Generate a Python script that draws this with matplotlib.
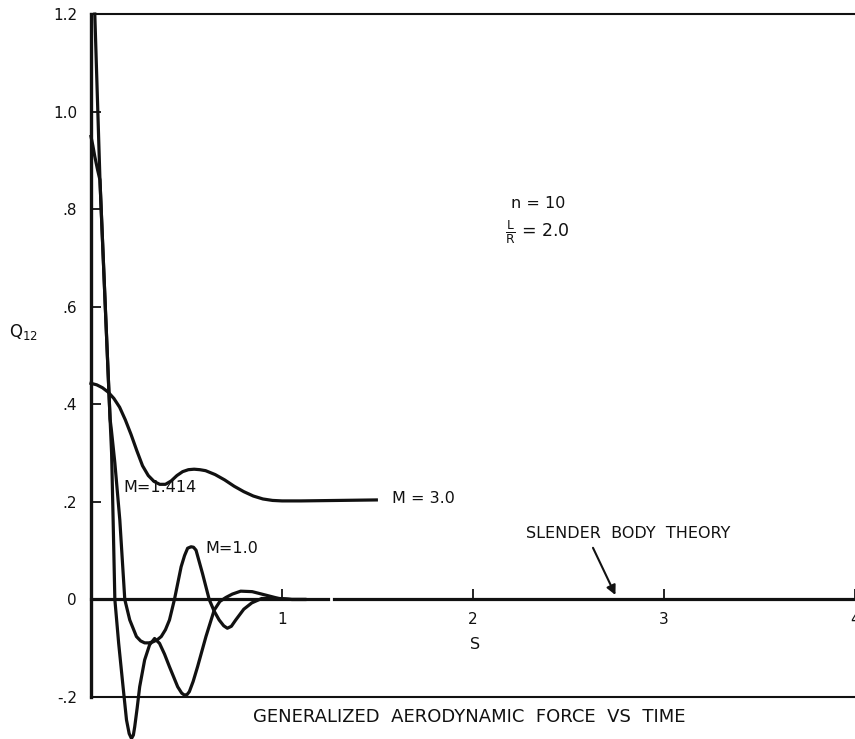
import numpy as np
import matplotlib
matplotlib.use("Agg")
import matplotlib.pyplot as plt

# values (S, Q12)
s_m30 = [0.0, 0.03, 0.06, 0.09, 0.12, 0.15, 0.18, 0.21, 0.24, 0.27, 0.30, 0.33,
         0.36, 0.39, 0.42, 0.45, 0.48, 0.51, 0.54, 0.57, 0.60, 0.65, 0.70, 0.75,
         0.80, 0.85, 0.90, 0.95, 1.0, 1.1, 1.3, 1.494]
q_m30 = [0.443, 0.440, 0.434, 0.425, 0.412, 0.394, 0.368, 0.338, 0.305, 0.274, 0.254, 0.242,
         0.236, 0.236, 0.243, 0.254, 0.262, 0.266, 0.267, 0.266, 0.264, 0.256, 0.245, 0.232,
         0.221, 0.212, 0.206, 0.203, 0.202, 0.202, 0.203, 0.204]

s_m1414 = [0.02, 0.047, 0.075, 0.100, 0.108, 0.116, 0.125, 0.145, 0.168, 0.186, 0.200, 0.212,
           0.222, 0.229, 0.242, 0.255, 0.281, 0.307, 0.333, 0.359, 0.385, 0.411, 0.454, 0.475,
           0.489, 0.503, 0.515, 0.535, 0.558, 0.602, 0.645, 0.675, 0.706, 0.74, 0.784, 0.844,
           0.914, 0.983, 1.052, 1.12]
q_m1414 = [1.20, 0.860, 0.600, 0.370, 0.300, 0.163, 0.000, -0.090, -0.179, -0.247, -0.275, -0.285,
           -0.278, -0.261, -0.222, -0.179, -0.124, -0.093, -0.080, -0.090, -0.112, -0.138, -0.179, -0.192,
           -0.196, -0.195, -0.189, -0.168, -0.138, -0.076, -0.022, -0.004, 0.004, 0.011, 0.017, 0.016,
           0.009, 0.002, 0.000, 0.000]

s_m10 = [0.0, 0.01, 0.02, 0.035, 0.047, 0.075, 0.100, 0.107, 0.125, 0.151, 0.177, 0.203,
         0.238, 0.260, 0.281, 0.303, 0.324, 0.346, 0.368, 0.390, 0.411, 0.437, 0.472, 0.490,
         0.506, 0.524, 0.537, 0.550, 0.584, 0.619, 0.645, 0.671, 0.695, 0.714, 0.735, 0.758,
         0.80, 0.842, 0.894, 0.983, 1.05, 1.12]
q_m10 = [0.949, 0.930, 0.908, 0.880, 0.860, 0.600, 0.370, 0.347, 0.280, 0.163, 0.000, -0.042,
         -0.076, -0.085, -0.089, -0.089, -0.087, -0.083, -0.076, -0.062, -0.042, 0.000, 0.067, 0.090,
         0.105, 0.108, 0.107, 0.101, 0.053, 0.000, -0.024, -0.042, -0.054, -0.059, -0.055, -0.042,
         -0.020, -0.007, 0.002, 0.002, 0.000, 0.000]

# slender body theory: Q12 = 0 (drawn in two pieces, as in the original)
s_sbt = [[0.0, 1.243], [1.274, 4.2]]
q_sbt = [[0.0, 0.0], [0.0, 0.0]]

y_ticks = [-0.2, 0.0, 0.2, 0.4, 0.6, 0.8, 1.0, 1.2]
y_tick_labels = ["-.2", "0", ".2", ".4", ".6", ".8", "1.0", "1.2"]
x_ticks = [1, 2, 3, 4]
x_tick_labels = ["1", "2", "3", "4"]

ink = "#111111"
plt.rcParams["font.family"] = ["DejaVu Sans"]

fig = plt.figure(figsize=(8.55, 7.39), dpi=100)
ax = fig.add_axes([0.1064, 0.0568, 0.8936, 0.9242])
ax.set_xlim(0, 4)
ax.set_ylim(-0.2, 1.2)

ax.spines["right"].set_visible(False)
ax.spines["left"].set_linewidth(2.4)
ax.spines["left"].set_color(ink)
ax.spines["top"].set_linewidth(1.5)
ax.spines["top"].set_color(ink)
# x axis sits on the zero line; its own line is replaced by the SBT line below
ax.spines["bottom"].set_position(("data", 0))
ax.spines["bottom"].set_visible(False)
ax.axhline(-0.2, color=ink, lw=1.5, clip_on=False)

ax.set_yticks(y_ticks)
ax.set_yticklabels(y_tick_labels)
ax.set_xticks(x_ticks)
ax.set_xticklabels(x_tick_labels)
ax.tick_params(axis="y", direction="in", length=7, width=1.3, pad=10,
               labelsize=11, colors=ink)
ax.tick_params(axis="x", direction="in", length=7, width=1.3, pad=9,
               labelsize=11, colors=ink)

for xs, ys in zip(s_sbt, q_sbt):
    ax.plot(xs, ys, color=ink, lw=2.3, clip_on=False)

ax.plot(s_m30, q_m30, color=ink, lw=2.3, clip_on=False)
ax.plot(s_m1414, q_m1414, color=ink, lw=2.3, clip_on=False)
ax.plot(s_m10, q_m10, color=ink, lw=2.3, clip_on=False)

ax.text(0.172, 0.229, "M=1.414", fontsize=11.5, va="center", color=ink)
ax.text(0.597, 0.105, "M=1.0", fontsize=11.5, va="center", color=ink)
ax.text(1.575, 0.206, "M = 3.0", fontsize=11.5, va="center", color=ink)
ax.text(2.81, 0.136, "SLENDER  BODY  THEORY", fontsize=11.5, ha="center",
        va="center", color=ink)
ax.annotate("", xy=(2.752, 0.004), xytext=(2.622, 0.111),
            arrowprops=dict(arrowstyle="-|>", color=ink, lw=1.5, mutation_scale=14))

ax.text(2.2, 0.812, "n = 10", fontsize=11.5, va="center", color=ink)
ax.text(2.17, 0.753, r"$\frac{\mathrm{L}}{\mathrm{R}}$ = 2.0", fontsize=12.5,
        va="center", color=ink)

ax.text(2.01, -0.093, "S", fontsize=11.5, ha="center", va="center", color=ink)
ax.set_ylabel("Q$_{12}$", rotation=0, fontsize=12, color=ink)
ax.yaxis.set_label_coords(-0.088, 0.52)

fig.text(0.5485, 0.0298, "GENERALIZED  AERODYNAMIC  FORCE  VS  TIME",
         fontsize=13, ha="center", va="center", color=ink)

fig.savefig("out.png", dpi=100)
